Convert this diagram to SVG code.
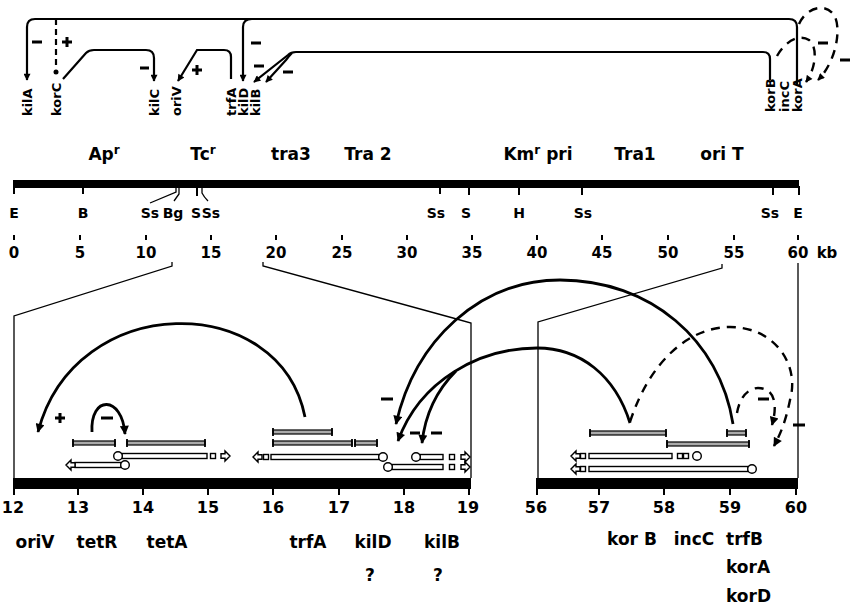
<svg xmlns="http://www.w3.org/2000/svg" xmlns:xlink="http://www.w3.org/1999/xlink" width="854" height="610" viewBox="0 0 854 610">
<style>
text{font-family:"DejaVu Sans","Liberation Sans",sans-serif;font-weight:bold;fill:#000}
.g{font-size:17px}
.rot{font-size:13px}
.rs{font-size:14px}
.num{font-family:"Liberation Sans",Arial,sans-serif;font-size:15px}
.bnum{font-family:"Liberation Sans",Arial,sans-serif;font-size:16px}
.ln{fill:none;stroke:#000;stroke-width:2.2}
.arc{fill:none;stroke:#000;stroke-width:2.8}
.dash{fill:none;stroke:#000;stroke-width:2.4;stroke-dasharray:9 7}
.thin{fill:none;stroke:#000;stroke-width:1.3}
.sign{stroke:#000;stroke-width:3;fill:none}
.gb{fill:#aaa;stroke:#000;stroke-width:1.2}
.cap{stroke:#000;stroke-width:1.8}
.tr{fill:#fff;stroke:#000;stroke-width:1.4}
.tick{stroke:#000;stroke-width:2}
</style>
<defs>
<marker id="ah" viewBox="0 0 10 10" refX="9" refY="5" markerWidth="8" markerHeight="7" markerUnits="userSpaceOnUse" orient="auto"><path d="M0,0 L10,5 L0,10 z"/></marker>
<marker id="ahB" viewBox="0 0 10 10" refX="9" refY="5" markerWidth="11" markerHeight="9" markerUnits="userSpaceOnUse" orient="auto"><path d="M0,0 L10,5 L0,10 z"/></marker>
<polygon id="arR" class="tr" points="-9,-2.2 -5,-2.2 -5,-5 0,0 -5,5 -5,2.2 -9,2.2"/>
<polygon id="arL" class="tr" points="9,-2.2 5,-2.2 5,-5 0,0 5,5 5,2.2 9,2.2"/>
<rect id="sq" class="tr" x="-2.5" y="-2.5" width="5" height="5"/>
<circle id="pr" class="tr" r="4.3"/>
</defs>

<!-- ===== Top regulatory diagram ===== -->
<g id="connectors-top">
  <path class="ln" d="M797,84 V27 Q797,19 789,19 H35 Q27,19 27,27 V80" marker-end="url(#ah)"/>
  <path class="ln" d="M252,19 Q243,19 243,27 V81" marker-end="url(#ah)"/>
  <path class="ln" d="M56,19 V69" stroke-dasharray="6 4"/>
  <circle cx="56" cy="72" r="2.5"/>
  <path class="ln" d="M63,79 L86,53 Q89,50 94,50 H146 Q154,50 154,58 V81" marker-end="url(#ah)"/>
  <path class="ln" d="M231,79 V57 Q231,50 224,50 H197 L178,81" marker-end="url(#ah)"/>
  <path class="ln" d="M770,80 V59 Q770,52 763,52 H296 Q291,52 288,55 L254,82" marker-end="url(#ah)"/>
  <path class="ln" d="M292,53 Q289,56 286,60 L266,82" marker-end="url(#ah)"/>
  <path class="dash" d="M777,56 C786,40 800,34 809,40 C818,47 816,68 806,82" marker-end="url(#ah)"/>
  <path class="dash" d="M799,24 C806,8 825,2 834,15 C842,28 836,62 818,80" marker-end="url(#ah)"/>
  <path class="sign" d="M32,42 h10 M140,68 h9 M251,43 h10 M254,66 h10 M283,72 h10 M818,43 h10 M840,60 h10"/>
  <path class="sign" d="M62,42 h10 M67,37 v10 M192,70 h10 M197,65 v10"/>
</g>
<g id="top-genes">
  <text class="rot" transform="translate(32,116) rotate(-90)">kilA</text>
  <text class="rot" transform="translate(61,116) rotate(-90)">korC</text>
  <text class="rot" transform="translate(159,116) rotate(-90)">kilC</text>
  <text class="rot" transform="translate(181,116) rotate(-90)">oriV</text>
  <text class="rot" transform="translate(236,116) rotate(-90)">trfA</text>
  <text class="rot" transform="translate(248,116) rotate(-90)">kilD</text>
  <text class="rot" transform="translate(260,116) rotate(-90)">kilB</text>
  <text class="rot" transform="translate(775,112) rotate(-90)">korB</text>
  <text class="rot" transform="translate(789,112) rotate(-90)">incC</text>
  <text class="rot" transform="translate(802,112) rotate(-90)">korA</text>
</g>

<!-- ===== Physical map ===== -->
<g id="map">
  <g class="g" text-anchor="middle">
    <text x="104" y="160">Ap<tspan font-size="12" dy="-6">r</tspan></text>
    <text x="203" y="160">Tc<tspan font-size="12" dy="-6">r</tspan></text>
    <text x="291" y="160">tra3</text>
    <text x="368" y="160">Tra 2</text>
    <text x="538" y="160">Km<tspan font-size="12" dy="-6">r</tspan><tspan dy="6"> pri</tspan></text>
    <text x="635" y="160">Tra1</text>
    <text x="722" y="160">ori T</text>
  </g>
  <rect x="13" y="180" width="786" height="8"/>
  <path class="tick" d="M14,186 V194 M83,186 V194 M440,186 V194 M469,186 V195 M519,186 V195 M582,186 V195 M773,186 V195 M799,186 V195 M197,186 V196"/>
  <path class="thin" d="M176,186 V192 L150,203 M179,186 V194 L174,201 M202,186 V193 Q204,197 208,201"/>
  <g class="rs" text-anchor="middle">
    <text x="14" y="218">E</text>
    <text x="83" y="218">B</text>
    <text x="150" y="218">Ss</text>
    <text x="173" y="218">Bg</text>
    <text x="196" y="218">S</text>
    <text x="211" y="218">Ss</text>
    <text x="436" y="218">Ss</text>
    <text x="466" y="218">S</text>
    <text x="519" y="218">H</text>
    <text x="583" y="218">Ss</text>
    <text x="770" y="218">Ss</text>
    <text x="798" y="218">E</text>
  </g>
  <path class="tick" d="M14,235 V240 M80,235 V240 M146,235 V240 M211,235 V240 M276,235 V240 M342,235 V240 M407,235 V240 M472,235 V240 M537,235 V240 M602,235 V240 M668,235 V240 M734,235 V240 M798,235 V240"/>
  <g class="num" text-anchor="middle">
    <text x="14" y="258">0</text><text x="80" y="258">5</text><text x="146" y="258">10</text>
    <text x="211" y="258">15</text><text x="276" y="258">20</text><text x="342" y="258">25</text>
    <text x="407" y="258">30</text><text x="472" y="258">35</text><text x="537" y="258">40</text>
    <text x="602" y="258">45</text><text x="668" y="258">50</text><text x="734" y="258">55</text>
    <text x="798" y="258">60</text><text x="827" y="258">kb</text>
  </g>
</g>

<!-- expansion lines -->
<g id="expansion">
  <path class="thin" d="M172,262 V266 L14,316 V478"/>
  <path class="thin" d="M263,262 V266 L453,318 L471,323 V478"/>
  <path class="thin" d="M722,264 V268 L538,322 V478"/>
  <path class="thin" d="M798,263 V478"/>
</g>

<!-- ===== Left expanded panel (12-19 kb) ===== -->
<g id="left-panel">
  <rect x="13" y="478" width="458" height="11"/>
  <path class="tick" d="M14,487 V495 M78,487 V495 M143,487 V495 M208,487 V495 M273,487 V495 M339,487 V495 M404,487 V495 M469,487 V495"/>
  <g class="bnum" text-anchor="middle">
    <text x="13" y="513">12</text><text x="78" y="513">13</text><text x="143" y="513">14</text>
    <text x="208" y="513">15</text><text x="273" y="513">16</text><text x="339" y="513">17</text>
    <text x="404" y="513">18</text><text x="468" y="513">19</text>
  </g>
  <g class="g" text-anchor="middle">
    <text x="35" y="548">oriV</text>
    <text x="97" y="548">tetR</text>
    <text x="167" y="548">tetA</text>
    <text x="308" y="548">trfA</text>
    <text x="373" y="548">kilD</text>
    <text x="442" y="548">kilB</text>
    <text x="370" y="581">?</text>
    <text x="438" y="581">?</text>
  </g>
  <g id="genes-left">
    <rect class="gb" x="73" y="441" width="42" height="4"/><path class="cap" d="M73,439 V447 M115,439 V447"/>
    <rect class="gb" x="127" y="441" width="78" height="4"/><path class="cap" d="M127,439 V447 M205,439 V447"/>
    <rect class="gb" x="273" y="430" width="59" height="4"/><path class="cap" d="M273,428 V436 M332,428 V436"/>
    <rect class="gb" x="273" y="441" width="79" height="4"/><path class="cap" d="M273,439 V447 M352,439 V447"/>
    <rect class="gb" x="355" y="441" width="22" height="4"/><path class="cap" d="M355,439 V447 M377,439 V447"/>
  </g>
  <g id="transcripts-left">
    <rect class="tr" x="122" y="453.5" width="85" height="5"/><use href="#pr" x="118" y="456"/><use href="#sq" x="213" y="456"/><use href="#arR" x="230" y="456"/>
    <rect class="tr" x="75" y="462.5" width="46" height="5"/><use href="#pr" x="125" y="465"/><use href="#arL" x="66" y="465"/>
    <rect class="tr" x="271" y="454.5" width="108" height="5"/><use href="#pr" x="383" y="457"/><use href="#sq" x="266" y="457"/><use href="#arL" x="253" y="457"/>
    <rect class="tr" x="420" y="454.5" width="23" height="5"/><use href="#pr" x="416" y="457"/><use href="#sq" x="452" y="457"/><use href="#arR" x="470" y="457"/>
    <rect class="tr" x="392" y="464.5" width="51" height="5"/><use href="#pr" x="388" y="467"/><use href="#sq" x="452" y="467"/><use href="#arR" x="470" y="467"/>
  </g>
</g>

<!-- ===== Right expanded panel (56-60 kb) ===== -->
<g id="right-panel">
  <rect x="536" y="478" width="262" height="11"/>
  <path class="tick" d="M537,487 V495 M599,487 V495 M664,487 V495 M730,487 V495 M796,487 V495"/>
  <g class="bnum" text-anchor="middle">
    <text x="536" y="513">56</text><text x="599" y="513">57</text><text x="664" y="513">58</text>
    <text x="730" y="513">59</text><text x="796" y="513">60</text>
  </g>
  <g class="g">
    <text x="632" y="545" text-anchor="middle">kor B</text>
    <text x="694" y="545" text-anchor="middle">incC</text>
    <text x="726" y="545">trfB</text>
    <text x="726" y="573">korA</text>
    <text x="726" y="602">korD</text>
  </g>
  <g id="genes-right">
    <rect class="gb" x="590" y="431" width="76" height="4"/><path class="cap" d="M590,429 V437 M666,429 V437"/>
    <rect class="gb" x="727" y="431" width="19" height="4"/><path class="cap" d="M727,429 V437 M746,429 V437"/>
    <rect class="gb" x="667" y="442" width="82" height="4"/><path class="cap" d="M667,440 V448 M749,440 V448"/>
  </g>
  <g id="transcripts-right">
    <rect class="tr" x="589" y="453.5" width="83" height="5"/><use href="#sq" x="583" y="456"/><use href="#arL" x="571" y="456"/><use href="#sq" x="680" y="456"/><use href="#sq" x="686" y="456"/><use href="#pr" x="697" y="456"/>
    <rect class="tr" x="589" y="466.5" width="159" height="5"/><use href="#sq" x="583" y="469"/><use href="#arL" x="571" y="469"/><use href="#pr" x="752" y="469"/>
  </g>
</g>

<!-- ===== Bottom regulatory arcs ===== -->
<g id="connectors-bottom">
  <path class="arc" d="M305,417 C280,290 75,290 38,432" marker-end="url(#ahB)"/>
  <path class="arc" d="M92,432 C90,395 122,395 125,434" stroke-width="2.4" marker-end="url(#ahB)"/>
  <path class="arc" d="M733,424 C720,340 650,280 560,280 C480,280 415,340 396,424" marker-end="url(#ahB)"/>
  <path class="arc" d="M630,423 C615,375 580,348 537,348 C480,348 420,380 398,441" marker-end="url(#ahB)"/>
  <path class="arc" d="M456,371 C437,390 425,415 422,443" marker-end="url(#ahB)"/>
  <path class="dash" d="M630,422 C650,360 690,327 730,327 C775,327 800,365 790,400 C786,420 781,433 774,446" marker-end="url(#ahB)"/>
  <path class="dash" d="M737,413 C740,395 750,388 758,388 C772,388 779,400 772,425" marker-end="url(#ahB)"/>
  <path class="sign" d="M55,418 h10 M60,413 v10"/>
  <path class="sign" d="M101,418 h12 M381,399 h12 M410,433 h10 M431,433 h11 M758,399 h11 M793,425 h12"/>
</g>
</svg>
